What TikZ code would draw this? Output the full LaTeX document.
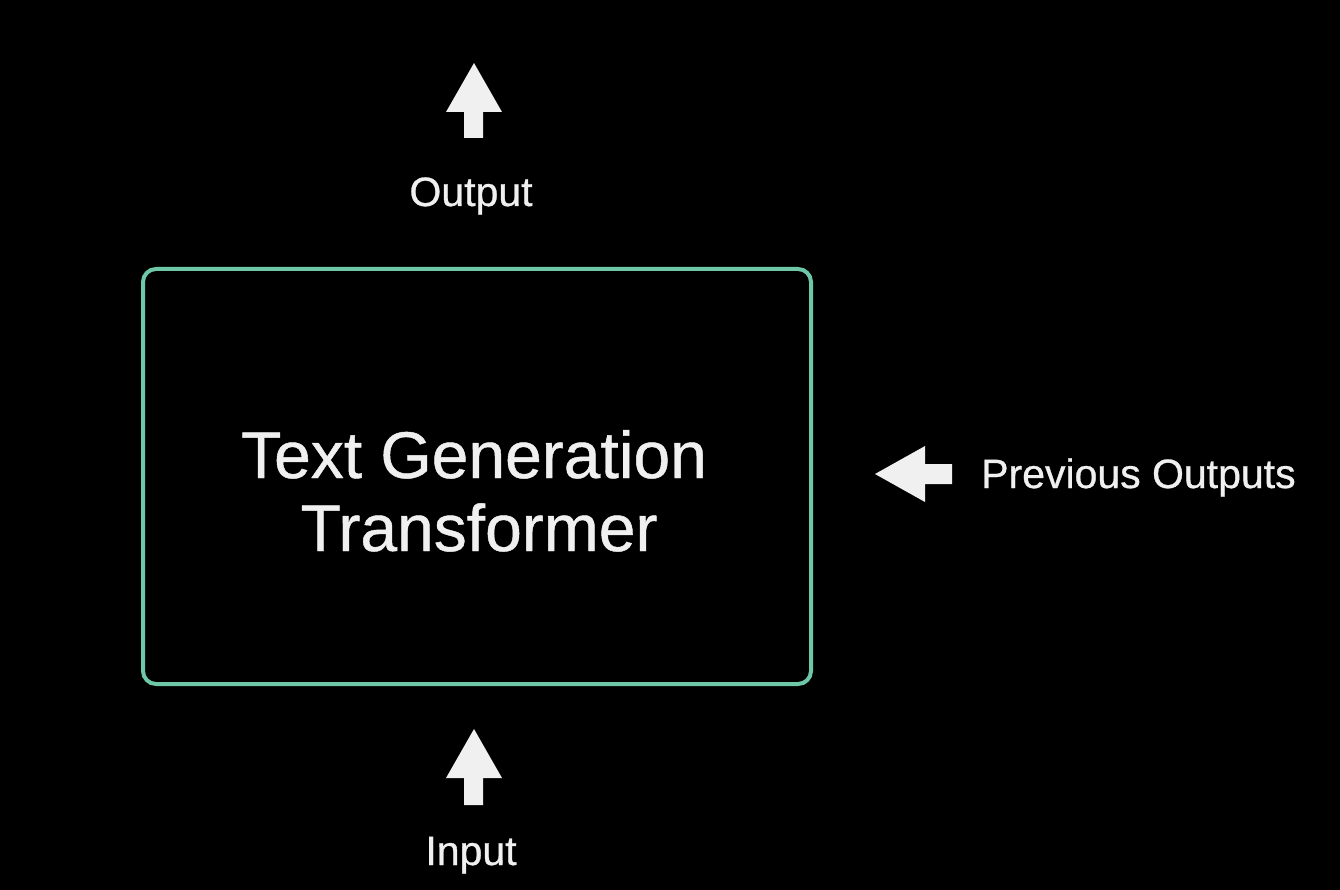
\documentclass[tikz,border=0pt]{standalone}
\usepackage{fontspec}
\setmainfont{Liberation Sans}
\newfontfamily\medfont[FakeBold=0.7]{Liberation Sans}
\definecolor{boxteal}{RGB}{110,200,168}
\definecolor{txtwhite}{RGB}{240,240,240}
\begin{document}
\begin{tikzpicture}[x=1pt,y=-1pt,
  lbl/.style={text=txtwhite,inner sep=0pt,font=\medfont\fontsize{41}{48}\selectfont},
  big/.style={text=txtwhite,inner sep=0pt,font=\medfont\fontsize{66}{72}\selectfont},
  blockarrow/.style={fill=txtwhite,draw=none}]
\fill[black] (0,0) rectangle (1340,890);
\useasboundingbox (0,0) rectangle (1340,890);
% main box
\draw[boxteal,line width=4pt,rounded corners=13pt] (143,269) rectangle (811,684);
\node[big,anchor=base] (t1) at (474,478) {Text Generation};
\node[big,anchor=base] (t2) at (479,551) {Transformer};
% output arrow
\fill[blockarrow] (474,63) -- (502,112) -- (483,112) -- (483,138) -- (464,138) -- (464,112) -- (446,112) -- cycle;
\node[lbl,anchor=base] (out) at (471,206) {Output};
% input arrow
\fill[blockarrow] (474,729) -- (502,778) -- (483,778) -- (483,805) -- (464,805) -- (464,778) -- (446,778) -- cycle;
\node[lbl,anchor=base] (in) at (471,865) {Input};
% previous outputs arrow
\fill[blockarrow] (875,474) -- (925,446) -- (925,464) -- (952,464) -- (952,484) -- (925,484) -- (925,502) -- cycle;
\node[lbl,anchor=base west] (prev) at (981,488) {Previous Outputs};
\end{tikzpicture}
\end{document}
